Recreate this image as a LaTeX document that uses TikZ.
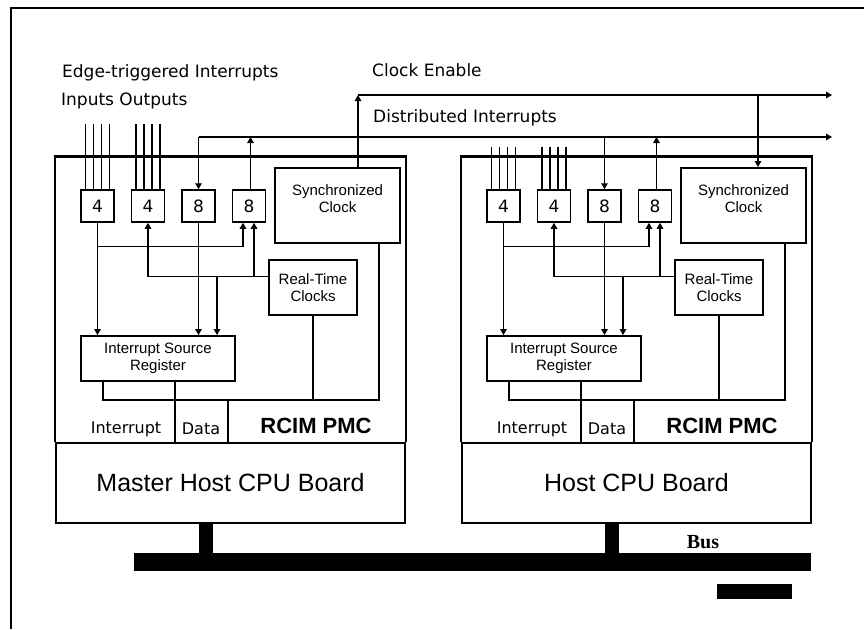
\documentclass[tikz,border=0pt]{standalone}
\usepackage{fontspec}
\setmainfont{Liberation Sans}
\newfontfamily\pixfont{DejaVu Sans}
\newfontfamily\busfont{Liberation Serif}
\usetikzlibrary{arrows.meta,positioning}
\tikzstyle{wire} = [line width=1.3pt]
\tikzstyle{sig} = [wire, -{Triangle[length=6pt,width=6.5pt]}]
\tikzstyle{counter} = [rectangle, draw, line width=1.5pt, minimum width=33pt, minimum height=32pt, inner sep=0pt, font=\pixfont\fontsize{17}{17}\selectfont]
\tikzstyle{unit} = [rectangle, draw, line width=1.9pt, align=center, inner sep=0pt, font=\fontsize{15}{17}\selectfont]
\tikzstyle{cpu} = [rectangle, draw, line width=2pt, fill=white, minimum width=349pt, minimum height=80pt, font=\fontsize{25}{25}\selectfont]
\tikzstyle{caption} = [inner sep=0pt, font=\pixfont\fontsize{17}{17}\selectfont]

\begin{document}
\begin{tikzpicture}[x=1pt, y=-1pt]
\useasboundingbox (0,0) rectangle (864,629);
\draw[line width=2pt] (864,7.5) -- (11,7.5) -- (11,629);

% Shared signal lines
\coordinate (clk) at (0,95);
\coordinate (clkout) at (832,95);
\coordinate (dist) at (0,137);
\coordinate (distout) at (832,137);

\node (edge) [caption, anchor=west] at (62,73) {Edge-triggered Interrupts};
\node (inout) [caption, anchor=west] at (61,101) {Inputs Outputs};
\node (clklbl) [caption, anchor=west] at (372,70) {Clock Enable};
\node (distlbl) [caption, anchor=west] at (373,118) {Distributed Interrupts};

% Bus
\node (bus) [fill, minimum width=677pt, minimum height=18pt, inner sep=0pt] at (472.5,562) {};
\node (buslbl) [font=\busfont\bfseries\fontsize{20}{20}\selectfont] at (703,542) {Bus};
\fill (717,584) rectangle (792,599);

% Boards
\foreach \dx/\b/\top/\name in {0/m/125/{Master Host CPU Board}, 406/h/148/{Host CPU Board}} {
\begin{scope}[shift={(\dx,0)}]
\node (cpu\b) [cpu] at (230.5,483) {\name};
\draw[line width=1.7pt] (cpu\b.north west) -- ++(0,-286) -| (cpu\b.north east);
\draw[line width=3pt] ([yshift=286pt]cpu\b.north west) -- ([yshift=286pt]cpu\b.north east);
\draw[line width=14pt] ([xshift=-25pt]cpu\b.south) -- ([xshift=-25pt]cpu\b.south |- bus.north);

\node (ina\b) [counter] at (97.5,206) {4};
\node (outb\b) [counter, right=16pt of ina\b] {4};
\node (ova\b) [counter, right=16pt of outb\b] {8};
\node (ovb\b) [counter, right=16pt of ova\b] {8};
\node (sync\b) [unit, minimum width=125pt, minimum height=75pt, text depth=14pt] at (337.5,205.5) {Synchronized\\Clock};
\node (rtc\b) [unit, minimum width=88pt, minimum height=55pt] at (313,287.5) {Real-Time\\Clocks};
\node (isr\b) [unit, minimum width=154pt, minimum height=45pt] at (158,358.5) {Interrupt Source\\Register};

\foreach \o in {-12,-4,4,12} {
  \draw[wire] ([xshift=\o pt]ina\b.north) -- ++(0,{\top-190});
  \draw[wire] ([xshift=\o pt]outb\b.north) -- ++(0,{\top-190});
}

% Interrupt routing
\draw[sig] (ina\b.south) -- (ina\b.south |- isr\b.north);
\draw[sig] ([yshift=-24pt]ina\b.south) -| ([xshift=-6pt]ovb\b.south);
\draw[sig] ([yshift=11pt]rtc\b.west) -| (outb\b.south);
\draw[sig] ([yshift=11pt]rtc\b.west) -| ([xshift=5pt]ovb\b.south);
\draw[sig] ([yshift=11pt]rtc\b.west) -| ([xshift=59pt]isr\b.north);
\draw[sig] (ova\b.south) -- (ova\b.south |- isr\b.north);
\draw[sig] (dist -| ova\b.north) -- (ova\b.north);
\draw[sig] ([xshift=1.5pt]ovb\b.north) -- ([xshift=1.5pt]ovb\b.north |- dist);

% Host interface
\draw[wire] ([xshift=-55pt]isr\b.south) -- ++(0,18) -| ([xshift=41.5pt]sync\b.south);
\draw[wire] (rtc\b.south) -- ++(0,84);
\draw[wire] ([xshift=17pt]isr\b.south) -- ([xshift=17pt]isr\b.south |- cpu\b.north);
\draw[wire] ([xshift=70pt,yshift=-18pt]isr\b.south) -- ([xshift=70pt]isr\b.south |- cpu\b.north);
\node (irq\b) [caption, font=\pixfont\fontsize{16}{16}\selectfont] at (126,429) {Interrupt};
\node (data\b) [caption, font=\pixfont\fontsize{16}{16}\selectfont] at (201,429) {Data};
\node (pmc\b) [font=\bfseries\fontsize{22}{22}\selectfont] at (316,426) {RCIM PMC};
\end{scope}
}

% Distributed interrupts and clock enable
\draw[sig] (dist -| ovam.north) -- (distout);
\draw[sig] ([xshift=20.5pt]syncm.north) -- ([xshift=20.5pt]syncm.north |- clk);
\draw[sig] ([xshift=20.5pt]syncm.north |- clk) -- (clkout);
\draw[sig] ([xshift=14.5pt]synch.north |- clk) -- ([xshift=14.5pt]synch.north);
\end{tikzpicture}
\end{document}
